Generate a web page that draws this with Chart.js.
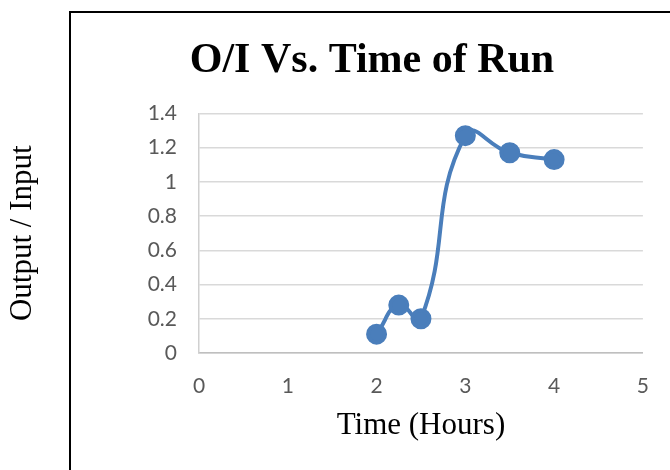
<!DOCTYPE html>
<html>
<head>
<meta charset="utf-8">
<script src="https://cdn.jsdelivr.net/npm/chart.js@4.4.1/dist/chart.umd.min.js"></script>
<style>
  html, body { margin: 0; padding: 0; background: #fff; }
  #wrap { position: relative; width: 670px; height: 470px; overflow: hidden; }
  #frame { position: absolute; left: 69px; top: 11px; width: 700px; height: 520px; border: 2px solid #000; box-sizing: border-box; }
  #oiChart { position: absolute; left: 0; top: 0; }
</style>
</head>
<body>
<div id="wrap">
  <div id="frame"></div>
  <canvas id="oiChart" width="670" height="470"></canvas>
</div>
<script>
// values
const timeHours = [2, 2.25, 2.5, 3, 3.5, 4];
const outputInput = [0.11, 0.28, 0.2, 1.27, 1.17, 1.13];
const xTickLabels = ['0', '1', '2', '3', '4', '5'];
const yTickLabels = ['0', '0.2', '0.4', '0.6', '0.8', '1', '1.2', '1.4'];

const chartTitle = 'O/I Vs. Time of Run';
const xTitle = 'Time (Hours)';
const yTitle = 'Output / Input';

const points = timeHours.map((t, i) => ({ x: t, y: outputInput[i] }));
const blue = '#4a7ebb';
const tickFont = { family: 'Lato', size: 21 };
const serif = 'Liberation Serif';

// title is centred on the framed box, not on the canvas
const centerTitle = {
  id: 'centerTitle',
  afterLayout(chart) {
    const t = chart.titleBlock;
    if (!t) return;
    t.left = 70;
    t.right = 674;
    t.width = t.right - t.left;
  }
};

new Chart(document.getElementById('oiChart'), {
  type: 'line',
  data: {
    datasets: [{
      label: yTitle,
      data: points,
      borderColor: blue,
      backgroundColor: blue,
      borderWidth: 4,
      pointRadius: 8.5,
      pointBackgroundColor: blue,
      pointBorderColor: blue,
      tension: 0.5,
      fill: false
    }]
  },
  options: {
    responsive: false,
    animation: false,
    devicePixelRatio: 1,
    layout: { padding: { top: 0, right: 27, bottom: 0, left: 0 } },
    plugins: {
      legend: { display: false },
      tooltip: { enabled: false },
      title: {
        display: true,
        text: chartTitle,
        color: '#000',
        font: { family: serif, size: 42, weight: 'bold' },
        padding: { top: 36, bottom: 27 }
      }
    },
    scales: {
      x: {
        type: 'linear',
        min: 0,
        max: 5,
        ticks: {
          stepSize: 1,
          color: '#595959',
          font: tickFont,
          padding: 21,
          callback: (v, i) => xTickLabels[i]
        },
        grid: { display: false, drawTicks: false },
        border: { display: true, color: '#bfbfbf', width: 1.5 },
        title: {
          display: true,
          text: xTitle,
          color: '#000',
          font: { family: serif, size: 31 },
          padding: { top: 0, bottom: 26 }
        },
        afterFit: (scale) => { scale.height = 117; }
      },
      y: {
        min: 0,
        max: 1.4,
        ticks: {
          stepSize: 0.2,
          color: '#595959',
          font: tickFont,
          padding: 22,
          callback: (v, i) => yTickLabels[i]
        },
        grid: { color: '#d9d9d9', lineWidth: 1.5, drawTicks: false },
        border: { display: true, color: '#d0d0d0', width: 1.5 },
        title: {
          display: true,
          text: yTitle,
          color: '#000',
          font: { family: serif, size: 31 },
          padding: { top: 4, bottom: 0 }
        },
        afterFit: (scale) => { scale.width = 199; }
      }
    }
  },
  plugins: [centerTitle]
});
</script>
</body>
</html>
